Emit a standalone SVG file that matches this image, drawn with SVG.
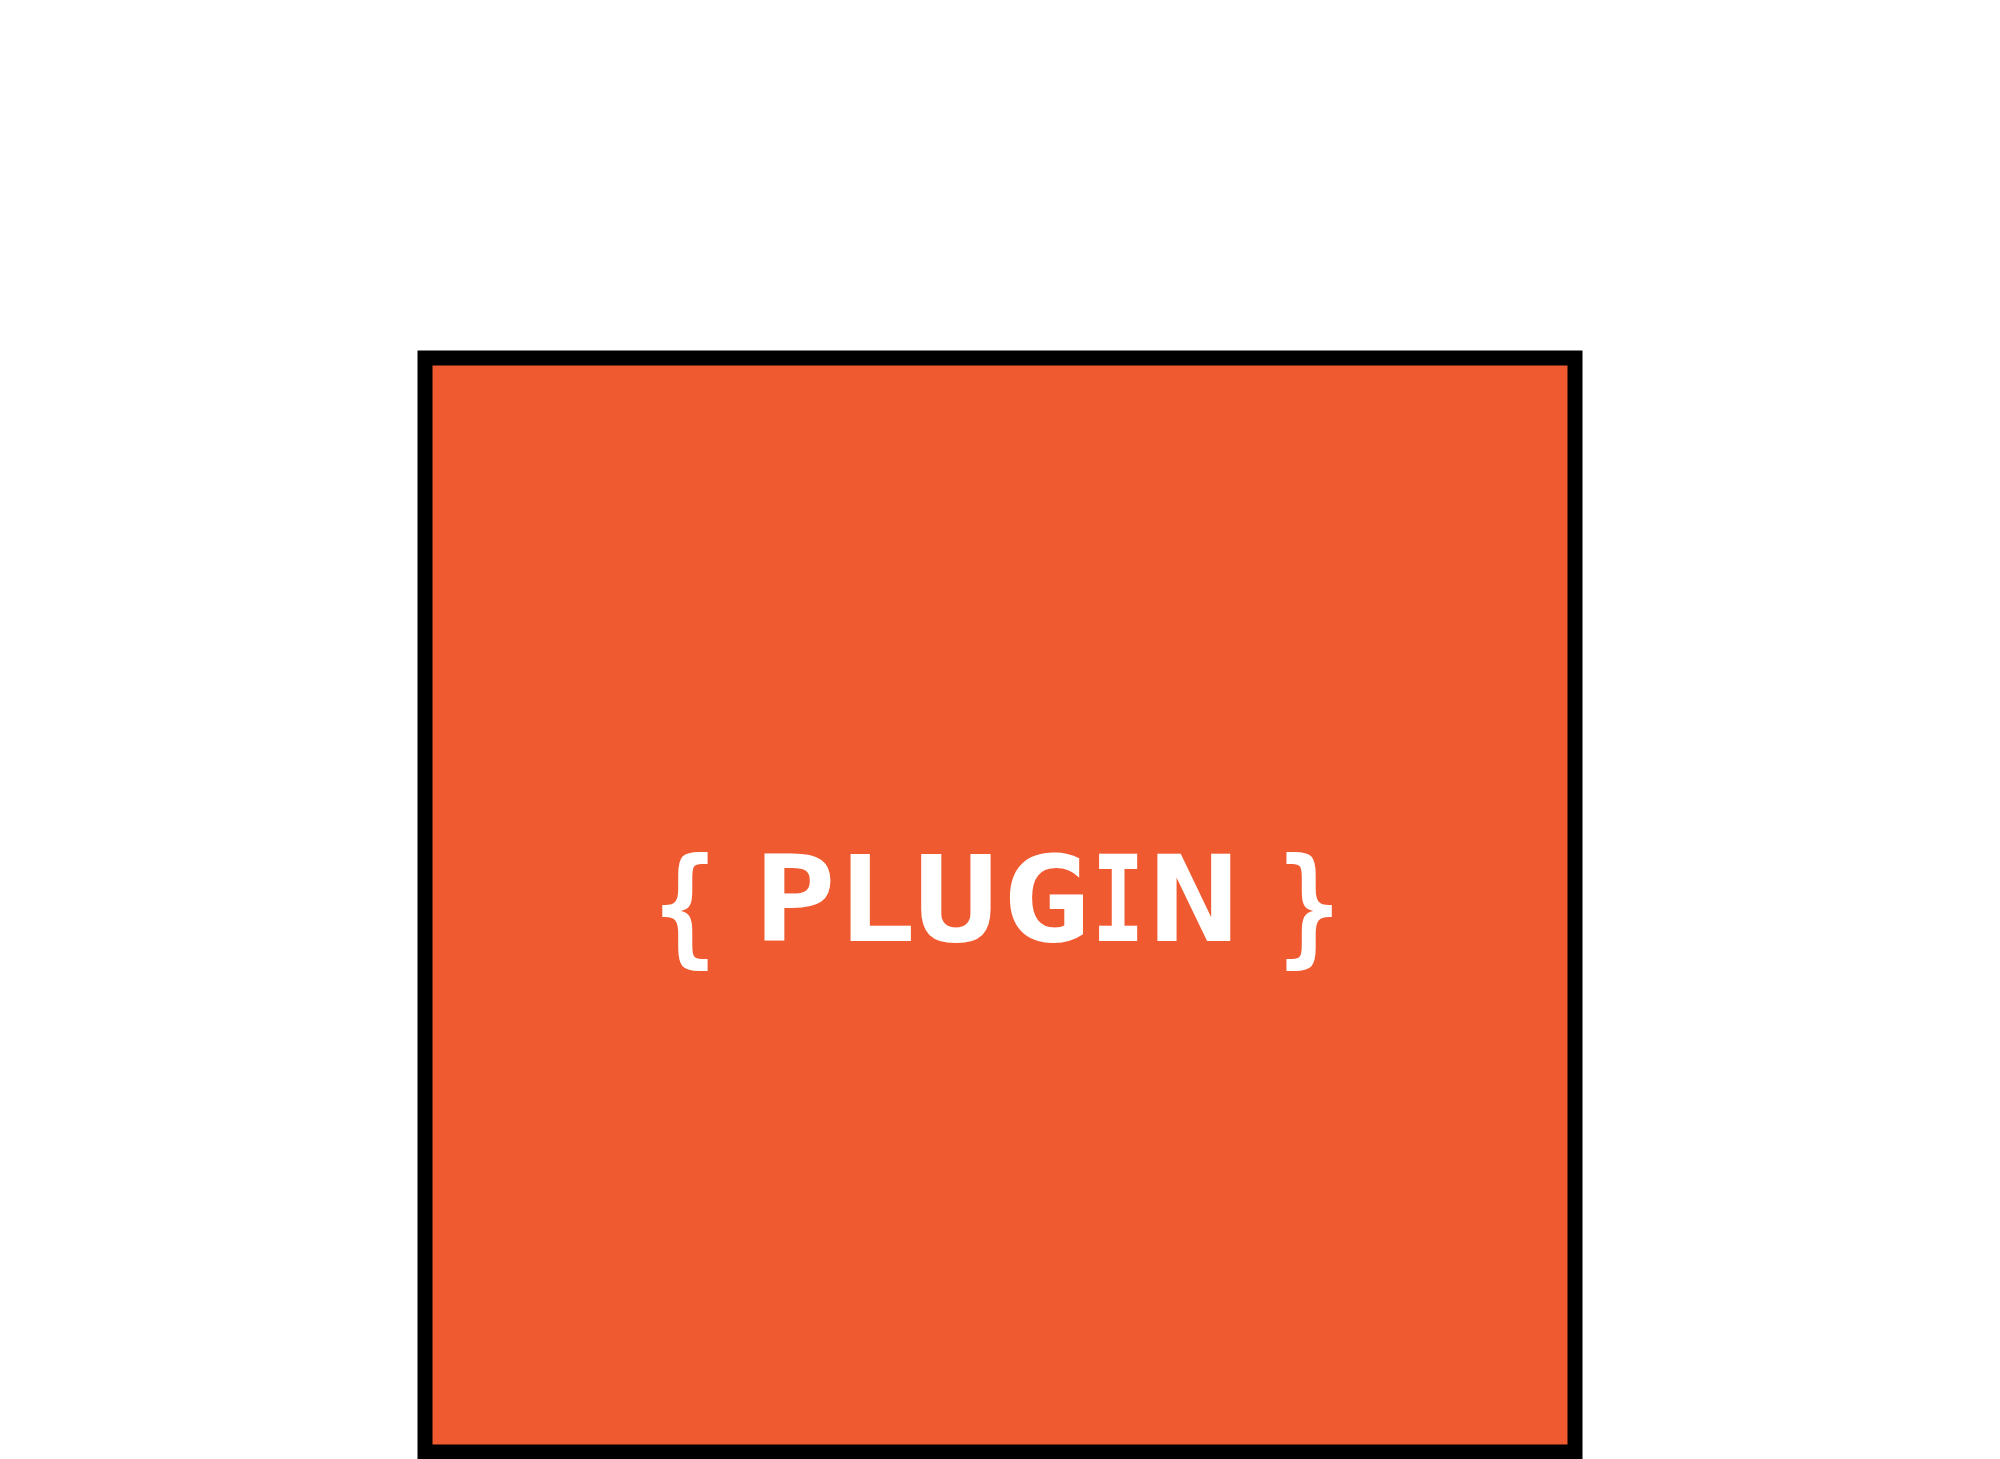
<svg xmlns="http://www.w3.org/2000/svg" width="2000" height="1459" viewBox="0 0 2000 1459">
<style>
.box{fill:#F05A30;stroke:#000;stroke-width:15}
.lbl{font-family:"DejaVu Sans Mono","Liberation Mono",monospace;font-weight:bold;font-size:120px;fill:#fff;text-anchor:middle}
</style>
<rect width="2000" height="1459" fill="#fff"/>
<g id="plugin">
<rect class="box" x="425" y="358" width="1150" height="1094"/>
<g id="label">
<text class="lbl" transform="translate(685,950) scale(0.88,1.064)">{</text>
<text class="lbl" transform="translate(795,941) scale(1.14,1)">P</text>
<text class="lbl" transform="translate(876,941) scale(1.11,1)">L</text>
<text class="lbl" transform="translate(956,941) scale(1.16,1)">U</text>
<text class="lbl" transform="translate(1046,941) scale(1.23,1)">G</text>
<text class="lbl" transform="translate(1118,941) scale(0.73,1)">I</text>
<text class="lbl" transform="translate(1194,941) scale(1.25,1)">N</text>
<text class="lbl" transform="translate(1309,950) scale(0.88,1.064)">}</text>
</g>
</g>
<g id="connectors"></g>
</svg>
